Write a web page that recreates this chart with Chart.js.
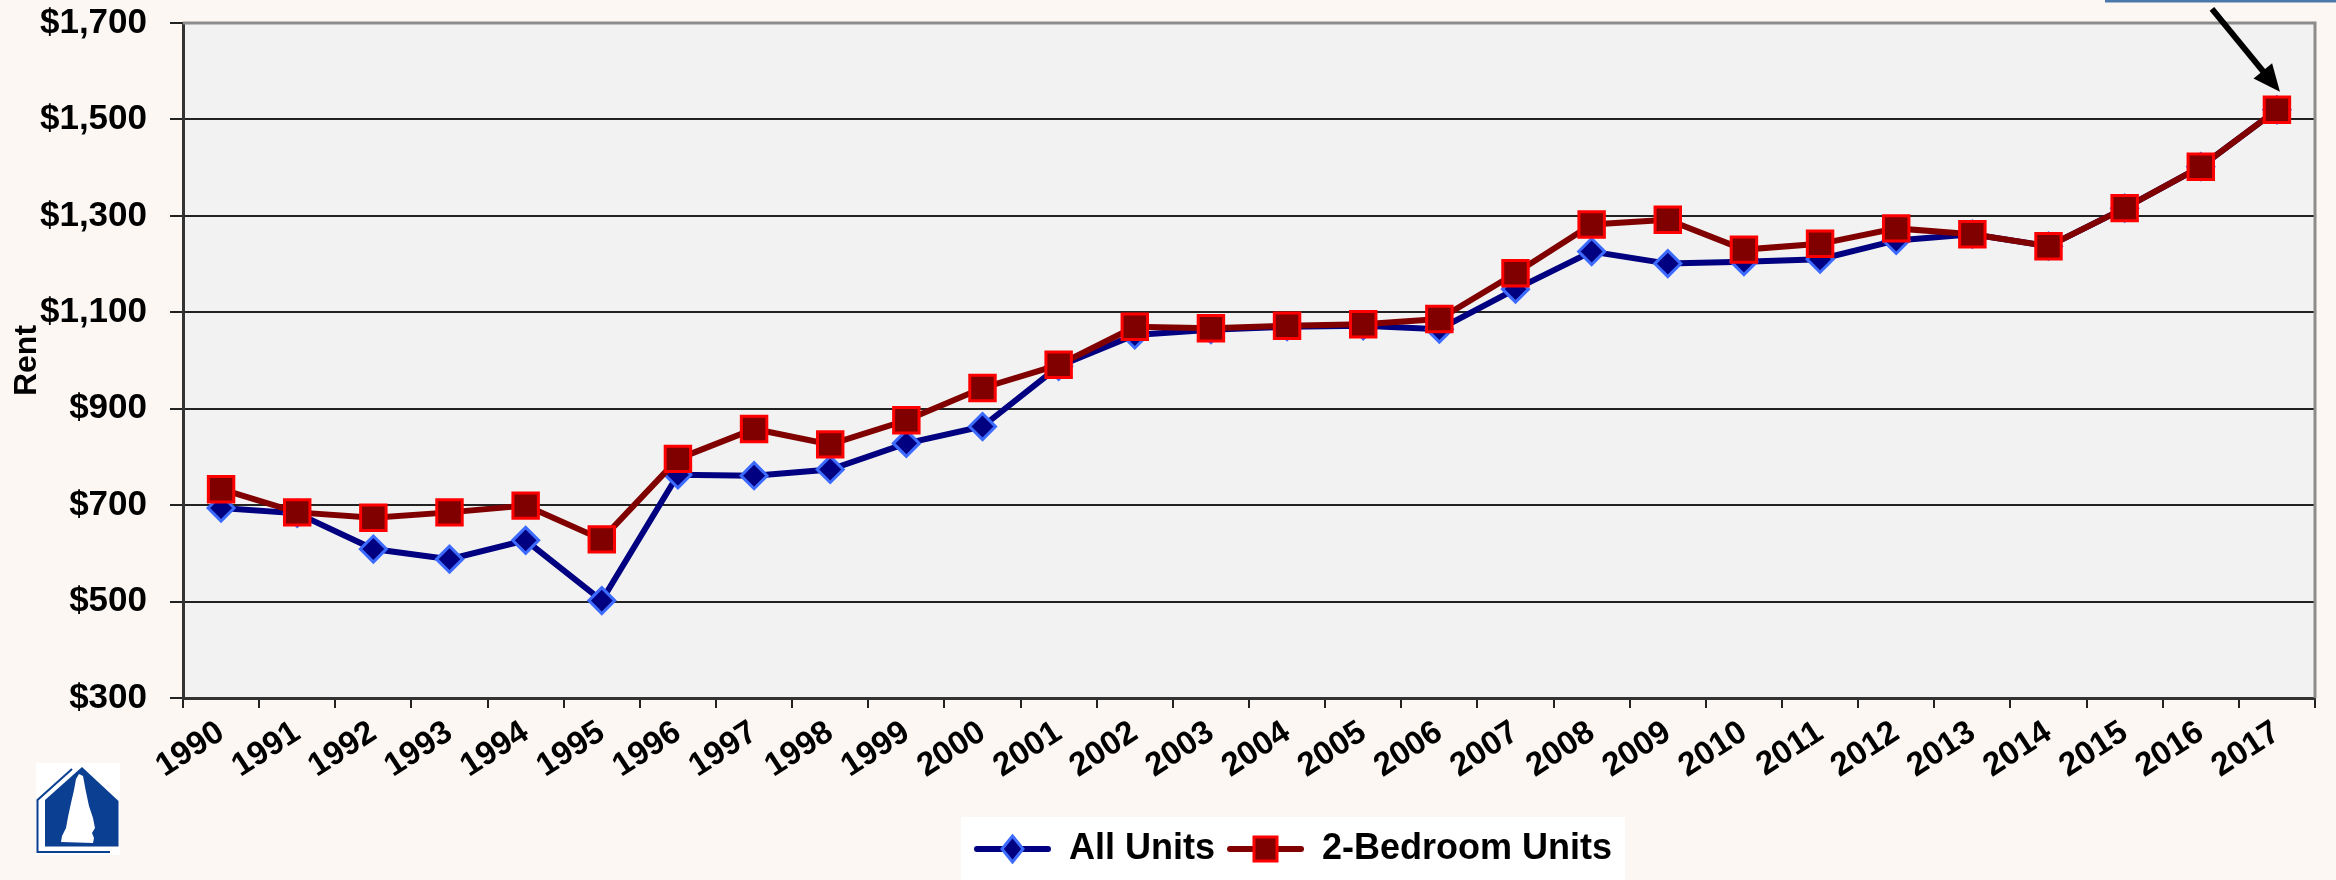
<!DOCTYPE html>
<html>
<head>
<meta charset="utf-8">
<script src="https://cdn.jsdelivr.net/npm/chart.js@4.4.1/dist/chart.umd.min.js"></script>
<style>
  html, body { margin: 0; padding: 0; background: #fcf7f3; }
  #wrap { width: 2336px; height: 880px; position: relative; }
</style>
</head>
<body>
<div id="wrap"><canvas id="rentCanvas"></canvas></div>
<script>
// Datos
const years = ['1990','1991','1992','1993','1994','1995','1996','1997','1998','1999',
  '2000','2001','2002','2003','2004','2005','2006','2007','2008','2009',
  '2010','2011','2012','2013','2014','2015','2016','2017'];
const allUnits = [694, 683, 609, 588, 627, 502, 763, 761, 774, 828,
  863, 988, 1053, 1064, 1070, 1072, 1065, 1148, 1226, 1201,
  1205, 1210, 1249, 1262, 1237, 1316, 1402, 1520];
const twoBedroom = [733, 685, 674, 685, 699, 629, 796, 858, 826, 876,
  943, 991, 1070, 1067, 1072, 1075, 1086, 1181, 1282, 1292,
  1230, 1242, 1274, 1262, 1237, 1316, 1402, 1520];
const rentTicks = [300, 500, 700, 900, 1100, 1300, 1500, 1700];
const seriesNames = ['All Units', '2-Bedroom Units'];

const FONT = '"Liberation Sans", Arial, sans-serif';

// icono de leyenda: linea + marcador (estilo Excel)
function iconoLeyenda(lineColor, fill, border, tipo) {
  const c = document.createElement('canvas');
  c.width = 77; c.height = 30;
  const g = c.getContext('2d');
  g.strokeStyle = lineColor;
  g.lineWidth = 6;
  g.lineCap = 'round';
  g.beginPath(); g.moveTo(3, 15); g.lineTo(74, 15); g.stroke();
  g.fillStyle = fill;
  g.strokeStyle = border;
  g.lineWidth = 3;
  g.beginPath();
  if (tipo === 'diamond') {
    g.moveTo(38.5, 2); g.lineTo(49, 15); g.lineTo(38.5, 28); g.lineTo(28, 15); g.closePath();
  } else {
    g.rect(27, 3, 23, 24);
  }
  g.fill(); g.stroke();
  return c;
}
const legendIcons = [
  iconoLeyenda('#000080', '#000080', '#3d6bff', 'diamond'),
  iconoLeyenda('#800000', '#800000', '#ff0000', 'square')
];

function dibujarLogo(ctx) {
  ctx.fillStyle = '#ffffff';
  ctx.fillRect(36, 763, 84, 92);
  ctx.fillStyle = '#0b3f91';
  ctx.beginPath();
  ctx.moveTo(82, 767); ctx.lineTo(118.5, 801); ctx.lineTo(118.5, 846.5);
  ctx.lineTo(45, 846.5); ctx.lineTo(45, 800); ctx.closePath();
  ctx.fill();
  ctx.strokeStyle = '#0b3f91';
  ctx.lineWidth = 2;
  ctx.beginPath();
  ctx.moveTo(72, 769); ctx.lineTo(37.5, 800); ctx.lineTo(37.5, 852); ctx.lineTo(110, 852);
  ctx.stroke();
  // silueta blanca
  ctx.fillStyle = '#ffffff';
  ctx.beginPath();
  ctx.moveTo(79, 774); ctx.lineTo(83, 776); ctx.lineTo(86, 792); ctx.lineTo(89, 806);
  ctx.lineTo(93, 818); ctx.lineTo(95, 828); ctx.lineTo(92, 833); ctx.lineTo(94, 838);
  ctx.lineTo(93, 843); ctx.lineTo(61, 842); ctx.lineTo(62, 836); ctx.lineTo(66, 828);
  ctx.lineTo(68, 817); ctx.lineTo(71, 803); ctx.lineTo(74, 790); ctx.lineTo(76, 779);
  ctx.closePath();
  ctx.fill();
}

const decoracion = {
  id: 'decoracion',
  afterLayout(chart) {
    // mover la leyenda hacia la derecha como en el original
    const lg = chart.legend;
    const shift = 1293 - (lg.left + lg.right) / 2;
    lg.left += shift;
    lg.right += shift;
  },
  beforeDraw(chart) {
    const {ctx, chartArea: a} = chart;
    ctx.save();
    ctx.fillStyle = '#fcf7f3';
    ctx.fillRect(0, 0, chart.width, chart.height);
    ctx.fillStyle = '#f2f2f2';
    ctx.fillRect(a.left, a.top, a.right - a.left, a.bottom - a.top);
    const lg = chart.legend;
    const c = (lg.left + lg.right) / 2;
    ctx.fillStyle = '#ffffff';
    ctx.fillRect(c - 332, lg.top - 2, 664, chart.height - lg.top + 2);
    dibujarLogo(ctx);
    ctx.restore();
  },
  beforeDatasetsDraw(chart) {
    const {ctx, chartArea: a} = chart;
    ctx.save();
    ctx.strokeStyle = '#8c8c8c';
    ctx.lineWidth = 3;
    ctx.beginPath();
    ctx.moveTo(a.left, a.top); ctx.lineTo(a.right, a.top); ctx.lineTo(a.right, a.bottom);
    ctx.stroke();
    ctx.restore();
  },
  afterDraw(chart) {
    const ctx = chart.ctx;
    const pts = chart.getDatasetMeta(1).data;
    const p = pts[pts.length - 1];
    const tipX = p.x + 3, tipY = p.y - 18;
    const tailX = p.x - 65, tailY = p.y - 101;
    const ang = Math.atan2(tipY - tailY, tipX - tailX);
    ctx.save();
    ctx.strokeStyle = '#000';
    ctx.fillStyle = '#000';
    ctx.lineWidth = 6;
    ctx.beginPath();
    ctx.moveTo(tailX, tailY);
    ctx.lineTo(tipX - 20 * Math.cos(ang), tipY - 20 * Math.sin(ang));
    ctx.stroke();
    ctx.beginPath();
    ctx.moveTo(tipX, tipY);
    ctx.lineTo(tipX - 27 * Math.cos(ang) + 12 * Math.sin(ang), tipY - 27 * Math.sin(ang) - 12 * Math.cos(ang));
    ctx.lineTo(tipX - 27 * Math.cos(ang) - 12 * Math.sin(ang), tipY - 27 * Math.sin(ang) + 12 * Math.cos(ang));
    ctx.closePath();
    ctx.fill();
    // borde del cuadro de texto (cortado arriba)
    ctx.strokeStyle = '#4a78ab';
    ctx.lineWidth = 3;
    ctx.beginPath();
    ctx.moveTo(2105, 1); ctx.lineTo(2336, 1);
    ctx.stroke();
    ctx.restore();
  }
};

const ctx = document.getElementById('rentCanvas').getContext('2d');
const chart = new Chart(ctx, {
  type: 'line',
  data: {
    labels: years,
    datasets: [
      {
        label: seriesNames[0],
        data: allUnits,
        borderColor: '#000080',
        backgroundColor: '#000080',
        borderWidth: 6,
        pointStyle: 'rectRot',
        pointRadius: 13,
        pointBackgroundColor: '#000080',
        pointBorderColor: '#3d6bff',
        pointBorderWidth: 3,
        order: 2
      },
      {
        label: seriesNames[1],
        data: twoBedroom,
        borderColor: '#800000',
        backgroundColor: '#800000',
        borderWidth: 6,
        pointStyle: 'rect',
        pointRadius: 18,
        pointBackgroundColor: '#800000',
        pointBorderColor: '#ff0000',
        pointBorderWidth: 3,
        order: 1
      }
    ]
  },
  options: {
    responsive: true,
    maintainAspectRatio: false,
    animation: false,
    layout: { padding: { left: 8, right: 11, top: 23, bottom: 3 } },
    plugins: {
      tooltip: { enabled: false },
      legend: {
        position: 'bottom',
        labels: {
          usePointStyle: true,
          pointStyleWidth: 77,
          boxHeight: 30,
          padding: 12,
          color: '#000',
          font: { family: FONT, size: 36, weight: 'bold' },
          sort: (a, b) => a.datasetIndex - b.datasetIndex,
          generateLabels(chart) {
            const items = Chart.defaults.plugins.legend.labels.generateLabels(chart);
            items.forEach(it => { it.pointStyle = legendIcons[it.datasetIndex]; });
            return items;
          }
        }
      }
    },
    scales: {
      x: {
        offset: true,
        grid: { offset: true, drawOnChartArea: false, color: '#222', lineWidth: 2, tickLength: 10 },
        border: { color: '#333', width: 3 },
        ticks: {
          autoSkip: false,
          minRotation: 33,
          maxRotation: 33,
          padding: 5,
          color: '#000',
          font: { family: FONT, size: 33, weight: 'bold' }
        },
        afterFit(s) { s.height = 121; s.paddingLeft = 0; s.paddingRight = 0; }
      },
      y: {
        min: 300,
        max: 1700,
        afterBuildTicks(s) { s.ticks = rentTicks.map(v => ({ value: v })); },
        grid: { color: '#222', lineWidth: 2, tickLength: 13 },
        border: { color: '#333', width: 3 },
        ticks: {
          padding: 23,
          color: '#000',
          font: { family: FONT, size: 35, weight: 'bold' },
          callback: v => '$' + v.toLocaleString('en-US')
        },
        title: {
          display: true,
          text: 'Rent',
          color: '#000',
          padding: 0,
          font: { family: FONT, size: 32, weight: 'bold' }
        },
        afterFit(s) { s.width = 175; s.paddingTop = 0; s.paddingBottom = 0; }
      }
    }
  },
  plugins: [decoracion]
});
</script>
</body>
</html>
